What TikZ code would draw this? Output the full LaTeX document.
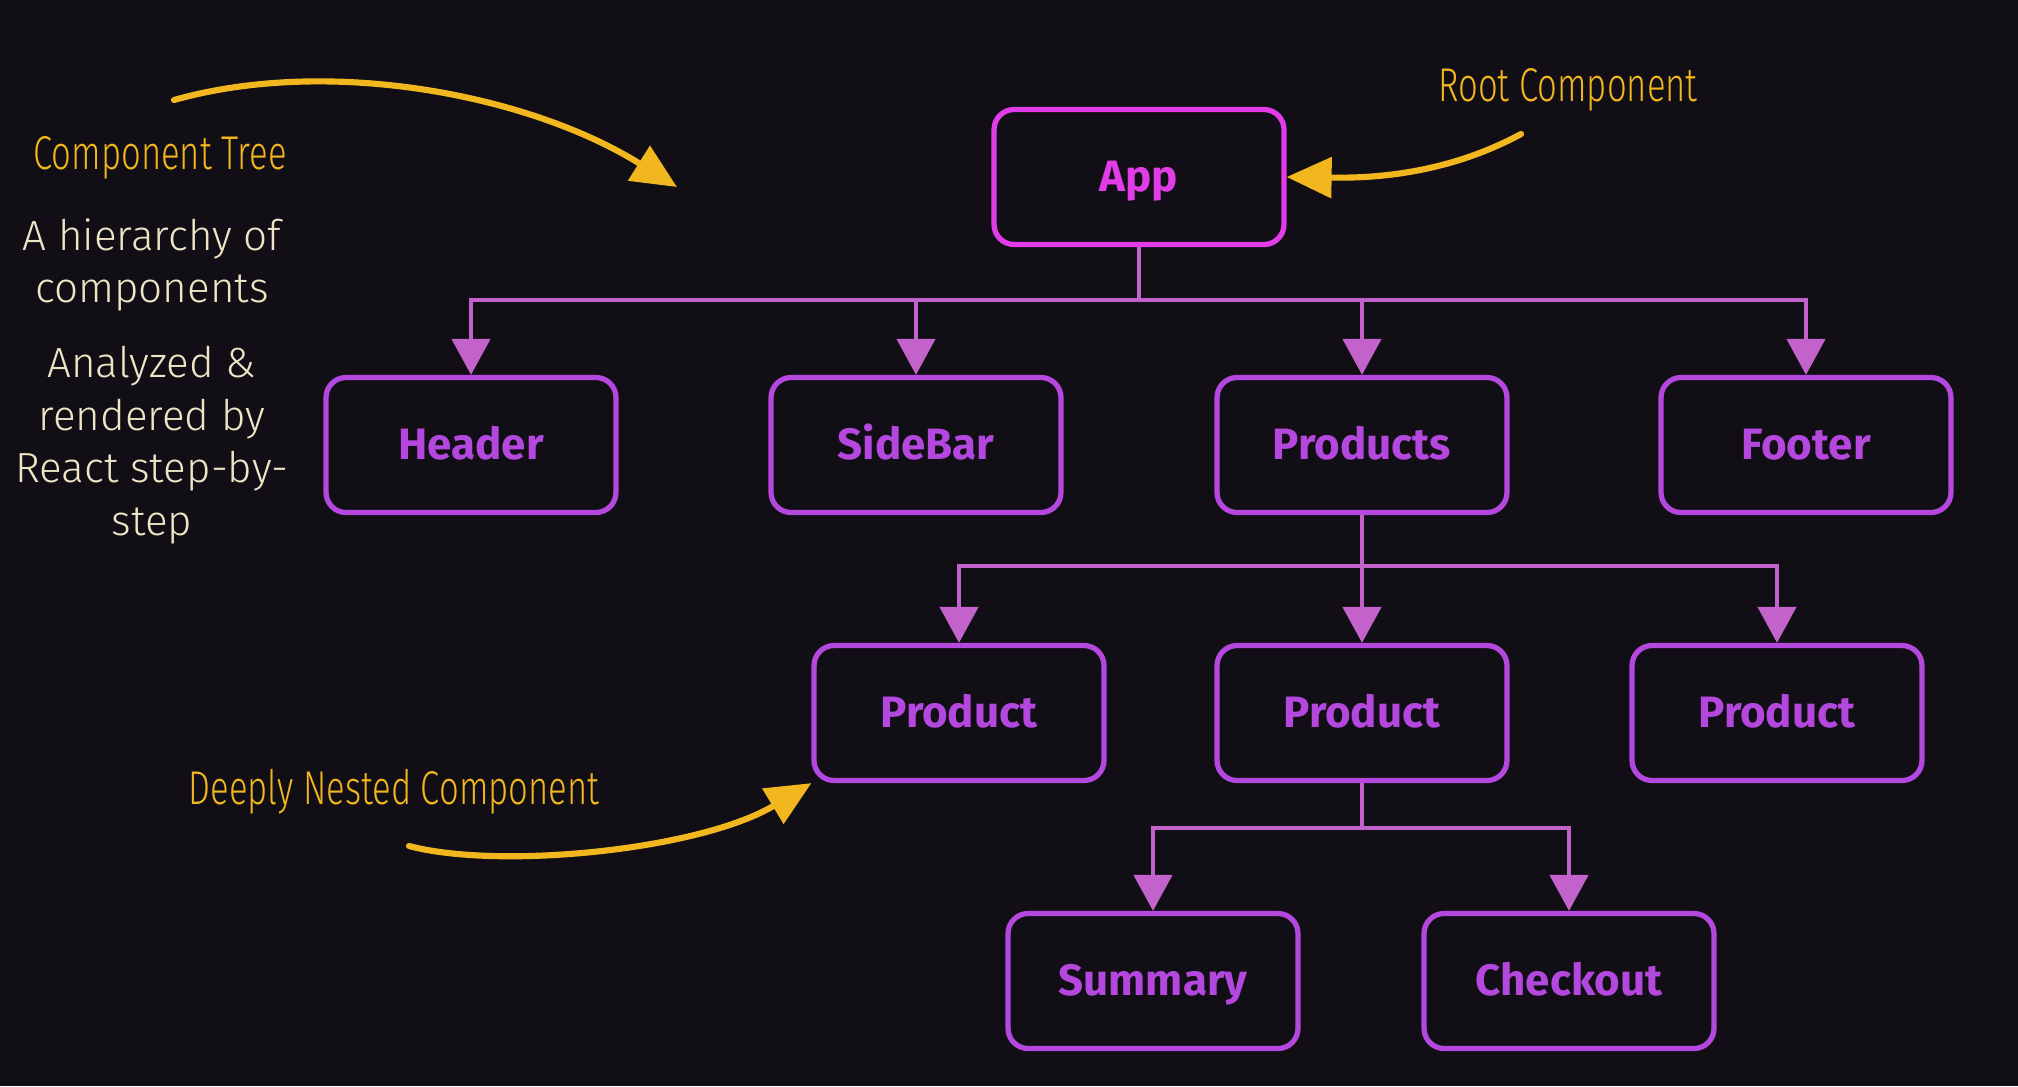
\documentclass[tikz,border=0pt]{standalone}
\usepackage{fontspec}
\setmainfont{Fira Sans}
\newfontfamily\lightfont{Fira Sans Light}
\newfontfamily\handfont{Fira Sans Light}[FakeStretch=0.73]
\usetikzlibrary{arrows.meta,positioning}

\definecolor{bgdark}{HTML}{110F15}
\definecolor{boxpurple}{HTML}{B347DE}
\definecolor{rootpink}{HTML}{E13CE8}
\definecolor{linkpink}{HTML}{C462CC}
\definecolor{hintyellow}{HTML}{F2B71F}
\definecolor{desccream}{HTML}{EFE5C6}

\begin{document}
\begin{tikzpicture}[x=0.02cm, y=-0.02cm,
    comp/.style={draw=boxpurple, line width=3pt, rounded corners=0.4cm, minimum width=5.8cm, minimum height=2.7cm, text height=17pt, text depth=0pt, text=boxpurple, font=\fontsize{25}{25}\selectfont\bfseries},
    root/.style={comp, draw=rootpink, text=rootpink},
    link/.style={draw=linkpink, line width=2.6pt},
    arr/.style={link, -{Triangle[length=0.72cm, width=0.76cm]}},
    hint/.style={text=hintyellow, font=\handfont\fontsize{27}{27}\selectfont},
    desc/.style={text=desccream, align=center, font=\lightfont\fontsize{24}{30}\selectfont},
    pointer/.style={draw=hintyellow, line width=3.5pt, line cap=round, -{Triangle[length=0.9cm, width=0.8cm]}}
  ]
    \fill[bgdark] (0,0) rectangle (2018,1086);

    % tree of components
    \node[root] (app) at (1139,177) {App};
    \node[comp] (header) at (471,445) {Header};
    \node[comp] (sidebar) at (916,445) {SideBar};
    \node[comp] (products) at (1362,445) {Products};
    \node[comp] (footer) at (1806,445) {Footer};
    \node[comp] (productA) at (959,713) {Product};
    \node[comp] (productB) at (1362,713) {Product};
    \node[comp] (productC) at (1777,713) {Product};
    \node[comp] (summary) at (1153,981) {Summary};
    \node[comp] (checkout) at (1569,981) {Checkout};

    \coordinate (appbus) at (1139,300);
    \coordinate (productsbus) at (1362,566);
    \coordinate (productbus) at (1362,828);
    \draw[link] (app.south) -- (appbus);
    \foreach \kid in {header,sidebar,products,footer}
      \draw[arr] (appbus) -| (\kid.north);
    \draw[link] (products.south) -- (productsbus);
    \foreach \kid in {productA,productB,productC}
      \draw[arr] (productsbus) -| (\kid.north);
    \draw[link] (productB.south) -- (productbus);
    \foreach \kid in {summary,checkout}
      \draw[arr] (productbus) -| (\kid.north);

    % notes
    \node[hint] (treelabel) at (160,158) {Component Tree};
    \node[desc] (treedesc) at (152,265) {A hierarchy of\\components};
    \node[desc] (treerender) at (152,445) {Analyzed \&\\rendered by\\React step-by-\\step};
    \node[hint] (rootlabel) at (1568,90) {Root Component};
    \node[hint] (nestedlabel) at (394,792) {Deeply Nested Component};

    \coordinate (treetail) at (174,100);
    \coordinate (treetip) at (677,187);
    \coordinate (roottail) at (1521,134);
    \coordinate (nestedtail) at (409,846);
    \draw[pointer] (treetail) .. controls (330,56) and (530,95) .. (treetip);
    \draw[pointer] (roottail) .. controls (1440,178) and (1360,178) .. (app.east);
    \draw[pointer] (nestedtail) .. controls (500,870) and (700,850) .. (productA.south west);
\end{tikzpicture}
\end{document}
